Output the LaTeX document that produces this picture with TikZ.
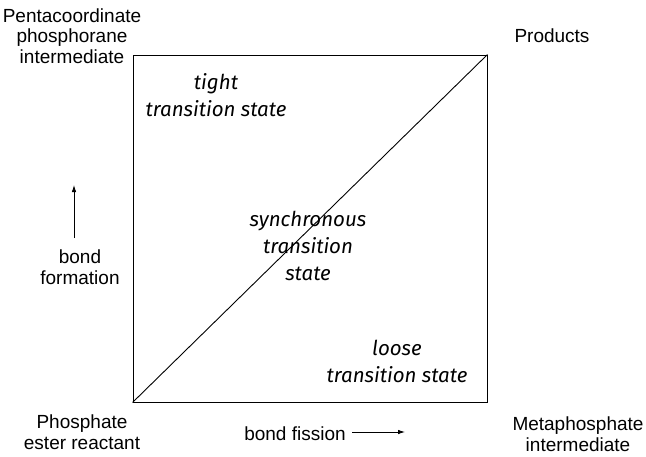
\documentclass[tikz,border=0pt]{standalone}
\usepackage{fontspec}
\setmainfont{Liberation Sans}
\newfontfamily\handfont{Fira Sans}[ItalicFont={Fira Sans Italic}]
\usetikzlibrary{arrows.meta}
\begin{document}
\begin{tikzpicture}[x=1pt,y=-1pt,
  lab/.style={font=\fontsize{19}{20.5}\selectfont, align=center, inner sep=0pt},
  ts/.style={font=\handfont\itshape\fontsize{20.5}{27}\selectfont, align=center, inner sep=0pt},
  arr/.style={-{Latex[length=7pt,width=4.5pt]}, line width=0.8pt}]
\useasboundingbox (0,0) rectangle (646,456);
\node[draw, line width=0.9pt, minimum width=354pt, minimum height=347pt, inner sep=0pt] (box) at (310,228.5) {};
\draw[line width=0.9pt] (box.south west) -- (box.north east);
\node[lab] (penta) at (72,36) {Pentacoordinate\\phosphorane\\intermediate};
\node[lab] (prod) at (552,36) {Products};
\node[lab] (reac) at (82,432) {Phosphate\\ester reactant};
\node[lab] (meta) at (578,434) {Metaphosphate\\intermediate};
\node[lab] (fiss) at (295,434) {bond fission};
\node[lab] (form) at (80,267) {bond\\formation};
\coordinate (fs) at (352,432);
\coordinate (fe) at (405,432);
\draw[arr] (fs) -- (fe);
\coordinate (bs) at (74,238);
\coordinate (be) at (74,185);
\draw[arr] (bs) -- (be);
\node[ts] (tight) at (216,95) {tight\\transition state};
\node[ts] (sync) at (308,246) {synchronous\\transition\\state};
\node[ts] (loose) at (397,361.5) {loose\\transition state};
\end{tikzpicture}
\end{document}
